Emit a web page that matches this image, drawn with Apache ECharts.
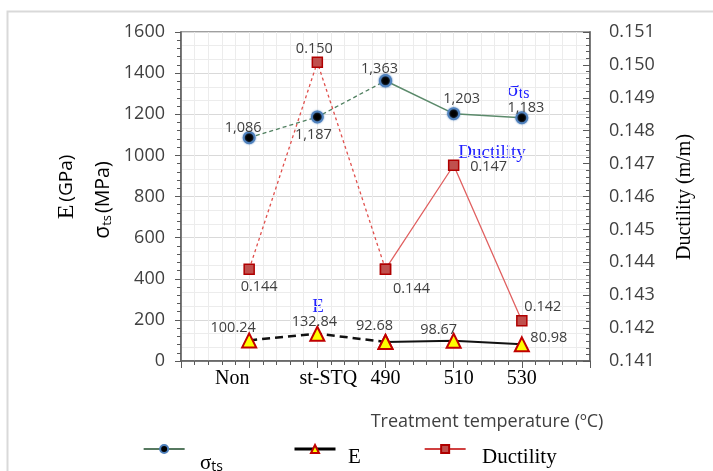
<!DOCTYPE html>
<html>
<head>
<meta charset="utf-8">
<script src="https://cdn.jsdelivr.net/npm/echarts@6/dist/echarts.min.js"></script>
<style>
html, body { margin: 0; padding: 0; background: #fff; }
#main { width: 713px; height: 471px; }
</style>
</head>
<body>
<div id="main"></div>
<script>
// treatment conditions, placed at 1..5 on a value axis running 0..6
var categories = ['Non', 'st-STQ', '490', '510', '530'];
var xPos = [1, 2, 3, 4, 5];
var stress = [1086, 1187, 1363, 1203, 1183];          // sigma_ts (MPa)
var modulus = [100.24, 132.84, 92.68, 98.67, 80.98];  // E (GPa)
var ductility = [0.14379, 0.15008, 0.14379, 0.14695, 0.14222]; // m/m

var sans = 'Open Sans';
var serif = 'Liberation Serif';

// label centre offsets from each marker, px
var stressOff = [[-6, -10], [-4, 18], [-6, -12], [8, -15], [4, -10]];
var ductOff = [[10, 18], [-3, -13], [26, 20], [35, 2], [21, -14]];
var modOff = [[-16, -13], [-3, -12], [-11, -16], [-15, -11], [27, -6]];

function seg(vals, from, to, labelled, offs) {
  var out = [];
  for (var i = from; i <= to; i++) {
    out.push({
      value: [xPos[i], vals[i]],
      label: { show: labelled.indexOf(i) >= 0, offset: offs[i] }
    });
  }
  return out;
}

function commas(v) {
  return String(Math.round(v)).replace(/\B(?=(\d{3})+(?!\d))/g, ',');
}

var labelBase = {
  position: 'inside',
  color: '#404040',
  fontFamily: sans,
  fontSize: 14.5
};

var stressMarker = {
  symbol: 'circle', symbolSize: 11,
  itemStyle: { color: '#000', borderColor: '#4f81bd', borderWidth: 2, shadowBlur: 2, shadowColor: 'rgba(79,129,189,0.8)' }
};
var modMarker = {
  symbol: 'triangle', symbolSize: 14,
  itemStyle: { color: '#ffff00', borderColor: '#c00000', borderWidth: 2 }
};
var ductMarker = {
  symbol: 'rect', symbolSize: 10,
  itemStyle: { color: '#c0504d', borderColor: '#b00000', borderWidth: 1.5 }
};

function lineSeries(name, yAxisIndex, data, marker, lineStyle, fmt, z) {
  return Object.assign({
    name: name,
    type: 'line',
    yAxisIndex: yAxisIndex,
    data: data,
    showAllSymbol: true,
    z: z,
    lineStyle: lineStyle,
    label: Object.assign({ formatter: function (p) { return fmt(p.value[1]); } }, labelBase),
    emphasis: { disabled: true }
  }, marker);
}

var chart = echarts.init(document.getElementById('main'));

var series = [
  lineSeries('σts-a', 0, seg(stress, 0, 2, [0, 1, 2], stressOff), stressMarker,
    { color: '#4f7f5f', width: 1.3, type: [4, 3] }, commas, 6),
  lineSeries('σts', 0, seg(stress, 2, 4, [3, 4], stressOff), stressMarker,
    { color: '#5b8a6b', width: 1.5 }, commas, 6),
  lineSeries('E-a', 0, seg(modulus, 0, 2, [0, 1, 2], modOff), modMarker,
    { color: '#111', width: 2.5, type: [8, 5] }, function (v) { return v.toFixed(2); }, 5),
  lineSeries('E', 0, seg(modulus, 2, 4, [3, 4], modOff), modMarker,
    { color: '#111', width: 2 }, function (v) { return v.toFixed(2); }, 5),
  lineSeries('Ductility-a', 1, seg(ductility, 0, 2, [0, 1, 2], ductOff), ductMarker,
    { color: '#e0504d', width: 1.3, type: [3, 3] }, function (v) { return v.toFixed(3); }, 4),
  lineSeries('Ductility', 1, seg(ductility, 2, 4, [3, 4], ductOff), ductMarker,
    { color: '#e06060', width: 1.3 }, function (v) { return v.toFixed(3); }, 4)
];

function legendAt(left, item) {
  return {
    left: left,
    top: 444,
    itemWidth: 41,
    itemHeight: 10,
    padding: 0,
    selectedMode: false,
    formatter: function () { return ''; },
    data: [item]
  };
}

chart.setOption({
  animation: false,
  grid: { left: 181, right: 123, top: 32, bottom: 110, show: true, borderColor: '#808080', borderWidth: 1.5, outerBoundsMode: 'none' },
  legend: [
    legendAt(143, { name: 'σts', lineStyle: { color: '#1e4d2b', width: 1.3 } }),
    legendAt(293, { name: 'E', lineStyle: { color: '#000', width: 3 } }),
    legendAt(424, { name: 'Ductility', lineStyle: { color: '#c00000', width: 1.3 } })
  ],
  xAxis: {
    type: 'value',
    min: 0, max: 6, interval: 1,
    axisLine: { lineStyle: { color: '#595959', width: 1.5 } },
    axisTick: { show: true, length: 7, lineStyle: { color: '#595959' } },
    minorTick: { show: true, splitNumber: 5, length: 4, lineStyle: { color: '#595959' } },
    splitLine: { show: true, lineStyle: { color: '#e8e8e8' } },
    minorSplitLine: { show: true, lineStyle: { color: '#ececec' } },
    axisLabel: {
      margin: 8,
      fontFamily: serif, fontSize: 20, color: '#000',
      formatter: function (v) {
        var i = Math.round(v) - 1;
        if (i < 0 || i >= categories.length) return '';
        if (i === 0) return '{a|' + categories[i] + '}';
        if (i === 1) return '{b|' + categories[i] + '}';
        if (i === 3) return '{c|' + categories[i] + '}';
        return categories[i];
      },
      rich: {
        a: { fontFamily: serif, fontSize: 20, color: '#000', padding: [0, 34, 0, 0] },
        b: { fontFamily: serif, fontSize: 20, color: '#000', padding: [0, 0, 0, 22] },
        c: { fontFamily: serif, fontSize: 20, color: '#000', padding: [0, 0, 0, 10] }
      }
    }
  },
  yAxis: [
    {
      type: 'value',
      position: 'left',
      min: 0, max: 1600, interval: 200,
      axisLine: { show: true, lineStyle: { color: '#595959', width: 1.5 } },
      axisTick: { show: true, length: 6, lineStyle: { color: '#595959' } },
      minorTick: { show: true, splitNumber: 5, length: 4, lineStyle: { color: '#595959' } },
      splitLine: { show: false },
      axisLabel: {
        margin: 16, fontFamily: sans, fontSize: 18, color: '#404040',
        formatter: function (v) { return String(v); }
      }
    },
    {
      type: 'value',
      position: 'right',
      min: 0.141, max: 0.151, interval: 0.001,
      axisLine: { show: true, lineStyle: { color: '#595959', width: 1.5 } },
      axisTick: { show: true, inside: true, length: 7, lineStyle: { color: '#595959' } },
      minorTick: { show: true, splitNumber: 5, length: 4, lineStyle: { color: '#595959' } },
      splitLine: { show: false },
      axisLabel: {
        margin: 19, fontFamily: sans, fontSize: 18, color: '#404040',
        formatter: function (v) { return v.toFixed(3); }
      }
    },
    {
      // horizontal grid only
      type: 'value',
      position: 'left',
      min: 0, max: 1600, interval: 200,
      axisLine: { show: false },
      axisTick: { show: false },
      axisLabel: { show: false },
      splitLine: { show: true, lineStyle: { color: '#d9d9d9' } },
      minorTick: { show: false, splitNumber: 3 },
      minorSplitLine: { show: true, lineStyle: { color: '#ececec' } }
    }
  ],
  series: series,
  graphic: [
    {
      type: 'polyline', silent: true,
      shape: { points: [[7.5, 471], [7.5, 11.5], [713, 11.5]] },
      style: { stroke: '#d9d9d9', lineWidth: 2, fill: null }
    },
    {
      type: 'text', x: 67, y: 187, rotation: Math.PI / 2,
      style: {
        text: '{e|E}{g|(GPa)}', align: 'center', verticalAlign: 'middle',
        rich: {
          e: { fontFamily: serif, fontSize: 24, fill: '#000', padding: [0, 3, 0, 0] },
          g: { fontFamily: sans, fontSize: 19, fill: '#000' }
        }
      }
    },
    {
      type: 'text', x: 103, y: 200, rotation: Math.PI / 2,
      style: {
        text: '{s|σ}{t|ts}{g|(MPa)}', align: 'center', verticalAlign: 'middle',
        rich: {
          s: { fontFamily: sans, fontSize: 21, fill: '#000' },
          t: { fontFamily: sans, fontSize: 13, fill: '#000', padding: [9, 2, 0, 0] },
          g: { fontFamily: sans, fontSize: 19.5, fill: '#000' }
        }
      }
    },
    {
      type: 'text', x: 685, y: 197, rotation: Math.PI / 2,
      style: { text: 'Ductility (m/m)', align: 'center', verticalAlign: 'middle', fontFamily: serif, fontSize: 20, fill: '#000' }
    },
    {
      type: 'text', x: 487, y: 422,
      style: { text: 'Treatment temperature (ºC)', align: 'center', verticalAlign: 'middle', fontFamily: sans, fontSize: 18, fill: '#404040' }
    },
    // legend labels
    {
      type: 'text', x: 200, y: 463,
      style: {
        text: '{s|σ}{t|ts}', verticalAlign: 'middle',
        rich: {
          s: { fontFamily: serif, fontSize: 21, fill: '#000' },
          t: { fontFamily: sans, fontSize: 14, fill: '#000', padding: [9, 0, 0, 0] }
        }
      }
    },
    {
      type: 'text', x: 348, y: 457,
      style: { text: 'E', verticalAlign: 'middle', fontFamily: serif, fontSize: 21, fill: '#000' }
    },
    {
      type: 'text', x: 482, y: 457,
      style: { text: 'Ductility', verticalAlign: 'middle', fontFamily: serif, fontSize: 21, fill: '#000' }
    },
    // in-plot annotations
    {
      type: 'text', x: 507, y: 90,
      style: {
        text: '{s|σ}{t|ts}', verticalAlign: 'middle',
        rich: {
          s: { fontFamily: serif, fontSize: 22, fill: '#1f1fff' },
          t: { fontFamily: serif, fontSize: 16, fill: '#1f1fff', padding: [8, 0, 0, 0] }
        }
      }
    },
    {
      type: 'text', x: 492, y: 153,
      style: { text: 'Ductility', align: 'center', verticalAlign: 'middle', fontFamily: serif, fontSize: 19, fill: '#1f1fff' }
    },
    {
      type: 'text', x: 318, y: 307,
      style: { text: 'E', align: 'center', verticalAlign: 'middle', fontFamily: serif, fontSize: 19, fill: '#1f1fff' }
    }
  ]
});
</script>
</body>
</html>
